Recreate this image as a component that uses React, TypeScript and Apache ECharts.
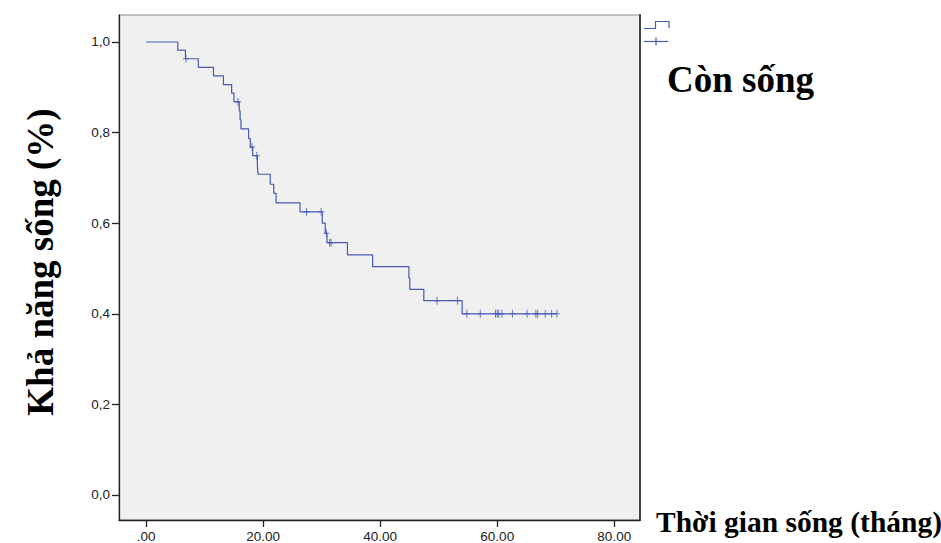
import React, { useEffect, useRef } from "react";
import * as echarts from "echarts";

// Kaplan-Meier step points (time in months, survival after the drop)
const stepTimes = [0, 5.4, 6.7, 8.9, 11.5, 13.2, 14.6, 15.0, 15.9, 16.05, 16.2, 17.5, 17.8, 18.2, 19.0, 19.1, 21.2, 21.8, 22.2, 26.3, 30.1, 30.6, 30.9, 34.4, 38.7, 44.9, 45.05, 47.45, 54.0, 70.2];
const stepSurv = [1.0, 0.982, 0.963, 0.944, 0.925, 0.906, 0.887, 0.868, 0.848, 0.828, 0.808, 0.787, 0.768, 0.749, 0.728, 0.708, 0.686, 0.666, 0.645, 0.625, 0.6, 0.578, 0.557, 0.53, 0.504, 0.479, 0.454, 0.429, 0.4, 0.4];

// Censored observations
const censorTimes = [6.8, 15.7, 18.1, 18.9, 27.4, 29.9, 30.8, 31.35, 31.6, 49.7, 53.2, 54.8, 57.1, 59.7, 60.0, 60.25, 60.8, 62.6, 65.1, 66.6, 66.9, 68.2, 69.3, 70.2];
const censorSurv = [0.963, 0.868, 0.768, 0.749, 0.625, 0.625, 0.578, 0.557, 0.557, 0.429, 0.429, 0.4, 0.4, 0.4, 0.4, 0.4, 0.4, 0.4, 0.4, 0.4, 0.4, 0.4, 0.4, 0.4];

const xTicks = [0, 20, 40, 60, 80];
const yTicks = [0, 0.2, 0.4, 0.6, 0.8, 1.0];

const yTitle = "Khả năng sống (%)";
const xTitle = "Thời gian sống (tháng)";
const legendLabel = "Còn sống";

export default function App() {
  const ref = useRef<HTMLDivElement>(null);
  useEffect(() => {
    const chart = echarts.init(ref.current!, null, { renderer: "svg" });
    const lineColor = "#4659B4";
    const xMin = -4.65, xMax = 84.4, yMin = -0.0552, yMax = 1.0596;
    const crossSymbol = "path://M2.5,0h1v8h-1z M0,3.5h6v1h-6z";
    const tickFont = { fontFamily: "Liberation Sans, Arial, sans-serif", fontSize: 13.5, color: "#222" };
    chart.setOption({
      animation: false,
      backgroundColor: "#ffffff",
      grid: {
        left: 119, right: 301, top: 15, bottom: 23,
        show: true, backgroundColor: "#F0F0F0", borderColor: "#8c8c8c", borderWidth: 1,
      },
      xAxis: [{
        type: "value", min: xMin, max: xMax, position: "bottom",
        axisLine: { show: true, onZero: false, lineStyle: { color: "#222", width: 1.3 } },
        axisTick: { show: true, inside: false, customValues: xTicks, length: 7, lineStyle: { color: "#222", width: 1.3 } },
        axisLabel: { customValues: xTicks, margin: 9, ...tickFont, formatter: (v: number) => (v === 0 ? ".00" : v.toFixed(2)) },
        splitLine: { show: false },
      }],
      yAxis: [{
        type: "value", min: yMin, max: yMax, position: "left",
        axisLine: { show: true, onZero: false, lineStyle: { color: "#222", width: 1.3 } },
        axisTick: { show: true, inside: false, customValues: yTicks, length: 7, lineStyle: { color: "#222", width: 1.3 } },
        axisLabel: { customValues: yTicks, margin: 9, ...tickFont, formatter: (v: number) => v.toFixed(1).replace(".", ",") },
        splitLine: { show: false },
      }, {
        type: "value", min: yMin, max: yMax, position: "right",
        axisLine: { show: true, onZero: false, lineStyle: { color: "#444", width: 2 } },
        axisTick: { show: false }, axisLabel: { show: false }, splitLine: { show: false },
      }],
      series: [
        {
          type: "line", step: "end", showSymbol: false, yAxisIndex: 0,
          data: stepTimes.map((t, i) => [t, stepSurv[i]]),
          lineStyle: { color: lineColor, width: 1.2 },
        },
        {
          type: "scatter", yAxisIndex: 0, symbol: crossSymbol, symbolSize: [6, 8],
          data: censorTimes.map((t, i) => [t, censorSurv[i]]),
          itemStyle: { color: lineColor },
        },
      ],
      graphic: [
        {
          type: "text", x: 40, y: 262, rotation: Math.PI / 2,
          style: { text: yTitle, fontFamily: "Liberation Serif, Times New Roman, serif", fontWeight: "bold", fontSize: 37, fill: "#000", align: "center", verticalAlign: "middle" },
        },
        {
          type: "text", x: 656, y: 522,
          style: { text: xTitle, fontFamily: "Liberation Serif, Times New Roman, serif", fontWeight: "bold", fontSize: 29.5, fill: "#000", align: "left", verticalAlign: "middle" },
        },
        {
          type: "text", x: 667, y: 79,
          style: { text: legendLabel, fontFamily: "Liberation Serif, Times New Roman, serif", fontWeight: "bold", fontSize: 37, fill: "#000", align: "left", verticalAlign: "middle" },
        },
        {
          type: "polyline",
          shape: { points: [[644, 28.5], [655.5, 28.5], [655.5, 21.5], [669, 21.5], [669, 28]] },
          style: { stroke: lineColor, lineWidth: 1.2, fill: null },
        },
        { type: "line", shape: { x1: 644, y1: 41.5, x2: 668, y2: 41.5 }, style: { stroke: lineColor, lineWidth: 1.2 } },
        { type: "line", shape: { x1: 656, y1: 37.5, x2: 656, y2: 45.5 }, style: { stroke: lineColor, lineWidth: 1.2 } },
      ],
    });
    return () => chart.dispose();
  }, []);
  return <div ref={ref} style={{ position: "fixed", left: 0, top: 0, width: 941, height: 543 }} />;
}
